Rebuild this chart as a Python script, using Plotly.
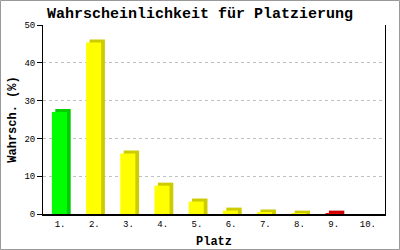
import plotly.graph_objects as go

categories = ["1.", "2.", "3.", "4.", "5.", "6.", "7.", "8.", "9.", "10."]
values = [27.0, 45.4, 16.0, 7.5, 3.3, 0.9, 0.4, 0.1, 0.1, 0.0]
front_colors = ["#00ff00"] + ["#ffff00"] * 7 + ["#ff0000", "#ffff00"]
side_colors = ["#00cc00"] + ["#cccc00"] * 7 + ["#cc0000", "#cccc00"]
y_ticks = [0, 10, 20, 30, 40, 50]

W, H = 400, 250
ML, MR, MT, MB = 43, 15, 25, 36
pw, ph = W - ML - MR, H - MT - MB
depth_y = 3 * 50 / ph  # 3px in data units

fig = go.Figure()
# shadow / 3D side
fig.add_trace(go.Bar(
    x=categories, y=[v + depth_y if v > 0 else 0 for v in values],
    width=0.45, offset=-0.14, marker=dict(color=side_colors, line=dict(width=0)),
    hoverinfo="skip", showlegend=False))
# front face
fig.add_trace(go.Bar(
    x=categories, y=values,
    width=0.44, offset=-0.24, marker=dict(color=front_colors, line=dict(width=0)),
    showlegend=False))

mono = "Liberation Mono, Courier New, monospace"
fig.update_layout(
    template="none",
    width=W, height=H, barmode="overlay",
    margin=dict(l=ML, r=MR, t=MT, b=MB, pad=0, autoexpand=False),
    paper_bgcolor="white", plot_bgcolor="white",
    title=dict(text="<b>Wahrscheinlichkeit für Platzierung</b>", x=0.5, xanchor="center",
               y=1 - 13 / H, yanchor="middle", font=dict(family=mono, size=15, color="black")),
    font=dict(family=mono, color="black"),
    xaxis=dict(
        type="category",
        title=dict(text="<b>Platz</b>", font=dict(family=mono, size=12, color="black"), standoff=8),
        automargin=False,
        showline=True, linecolor="black", linewidth=2, showgrid=False, ticks="",
        tickfont=dict(family=mono, size=9, color="black"), range=[-0.5, 9.5],
        zeroline=False),
    yaxis=dict(
        title=dict(text="<b>Wahrsch. (%)</b>", font=dict(family=mono, size=12, color="black"), standoff=5),
        automargin=False,
        range=[0, 50], tickvals=y_ticks, showline=True, linecolor="black", linewidth=1,
        mirror=True, ticks="outside", ticklen=5, tickcolor="black", tickwidth=1,
        tickfont=dict(family=mono, size=9, color="black"),
        showgrid=True, gridcolor="#c0c0c0", griddash="3px,3px", gridwidth=1, zeroline=False),
)
fig.add_shape(type="rect", xref="paper", yref="paper",
              x0=-ML / pw + 0.5 / pw, x1=1 + (MR - 0.5) / pw,
              y0=-(MB - 0.5) / ph, y1=1 + (MT - 0.5) / ph,
              line=dict(color="#999999", width=1), fillcolor="rgba(0,0,0,0)", layer="above")
fig.write_html("out.html")
